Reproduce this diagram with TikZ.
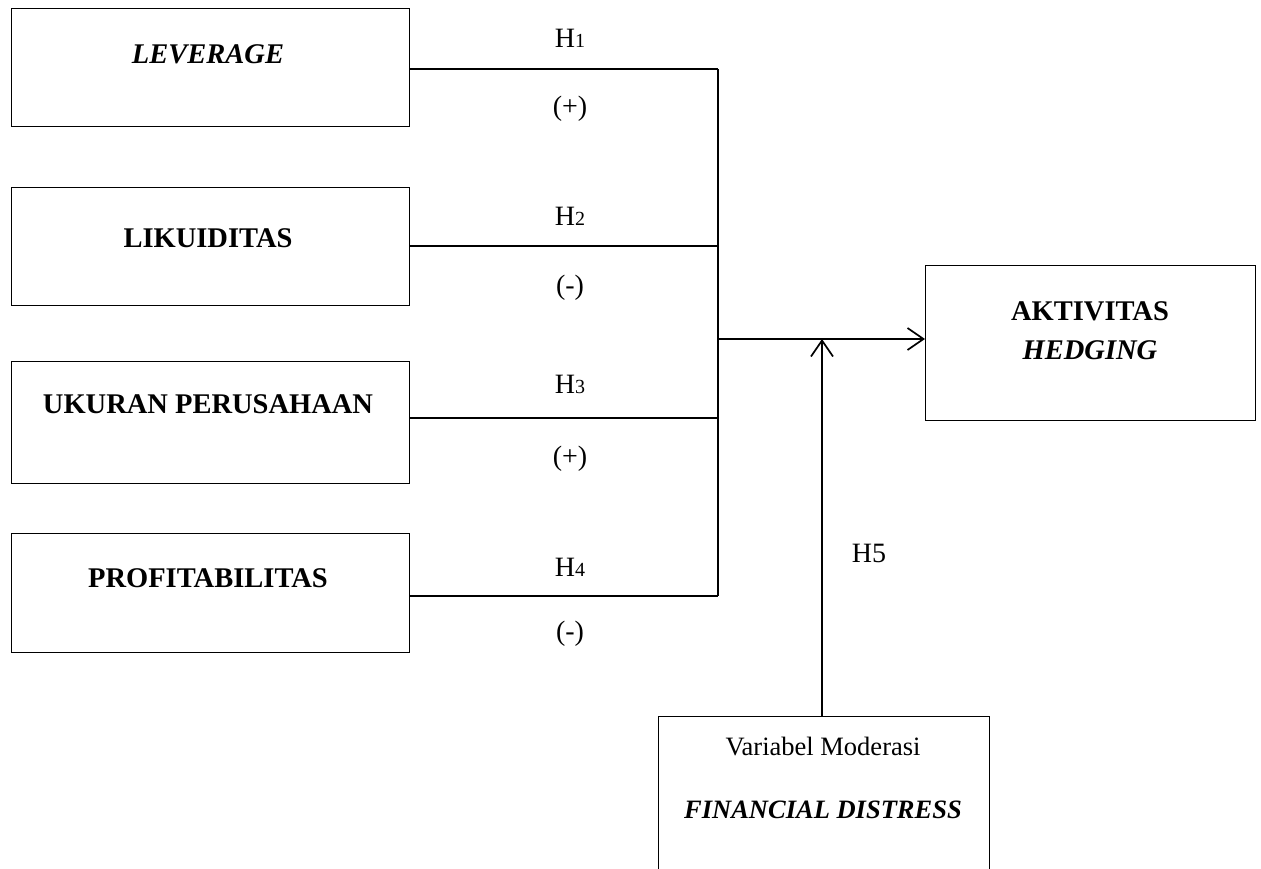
\documentclass[tikz,border=0pt]{standalone}
\usepackage{fontspec}
\setmainfont{Liberation Serif}
\usetikzlibrary{arrows.meta}
\begin{document}
\begin{tikzpicture}[x=1pt,y=-1pt,
  varbox/.style={draw=black,line width=1.1pt,minimum width=398pt,minimum height=118pt,anchor=north west,inner sep=0pt},
  lbl/.style={font=\fontsize{28.5}{30}\selectfont\bfseries,anchor=center,inner sep=0pt},
  hyp/.style={font=\fontsize{28}{30}\selectfont,anchor=center,inner sep=0pt},
  conn/.style={line width=1.7pt,black},
  arr/.style={line width=1.7pt,black,-{Straight Barb[length=16pt,width=22pt,line width=1.7pt]}}
]
\clip (0,0) rectangle (1261,868);
\useasboundingbox (0,0) rectangle (1261,868);
\newcommand{\hsub}[1]{H{\fontsize{20}{20}\selectfont #1}}

% left boxes
\node[varbox] (lev) at (11,8) {};
\node[varbox] (lik) at (11,187) {};
\node[varbox,minimum height=122pt] (uku) at (11,361) {};
\node[varbox,minimum height=119pt] (pro) at (11,533) {};

\node[lbl] (levt) at (208,54) {\itshape LEVERAGE};
\node[lbl] (likt) at (208,238) {LIKUIDITAS};
\node[lbl] (ukut) at (208,404) {UKURAN PERUSAHAAN};
\node[lbl] (prot) at (208,578) {PROFITABILITAS};

% dependent box
\node[draw=black,line width=1.1pt,minimum width=330pt,minimum height=155pt,anchor=north west,inner sep=0pt] (hedge) at (925,265) {};
\node[lbl] (hedget1) at (1090,311) {AKTIVITAS};
\node[lbl] (hedget2) at (1090,350) {\itshape HEDGING};

% moderating box
\node[draw=black,line width=1.1pt,minimum width=331pt,minimum height=200pt,anchor=north west,inner sep=0pt] (mod) at (658,716) {};
\node[hyp,font=\fontsize{26.5}{28}\selectfont] (modt1) at (823,746) {Variabel Moderasi};
\node[lbl,font=\fontsize{26.5}{28}\selectfont\bfseries\itshape] (modt2) at (823,810) {FINANCIAL DISTRESS};

% junction coordinates on the bus
\coordinate (j1) at (718,69);
\coordinate (j2) at (718,246);
\coordinate (j3) at (718,418);
\coordinate (j4) at (718,596);
\coordinate (jm) at (718,339);

\draw[conn] (lev.east |- j1) -- (j1);
\draw[conn] (lik.east |- j2) -- (j2);
\draw[conn] (uku.east |- j3) -- (j3);
\draw[conn] (pro.east |- j4) -- (j4);
\draw[conn] (j1) -- (j4);
\draw[arr] (jm) -- (hedge.west |- jm);
\draw[arr] (mod.north -| 822,0) -- (822,339);

% hypothesis labels
\node[hyp] (h1) at (570,38) {\hsub{1}};
\node[hyp] (s1) at (570,109) {(+)};
\node[hyp] (h2) at (570,216) {\hsub{2}};
\node[hyp] (s2) at (570,288) {(-)};
\node[hyp] (h3) at (570,384) {\hsub{3}};
\node[hyp] (s3) at (570,459) {(+)};
\node[hyp] (h4) at (570,567) {\hsub{4}};
\node[hyp] (s4) at (570,634) {(-)};
\node[hyp] (h5) at (869,553) {H5};
\end{tikzpicture}
\end{document}
